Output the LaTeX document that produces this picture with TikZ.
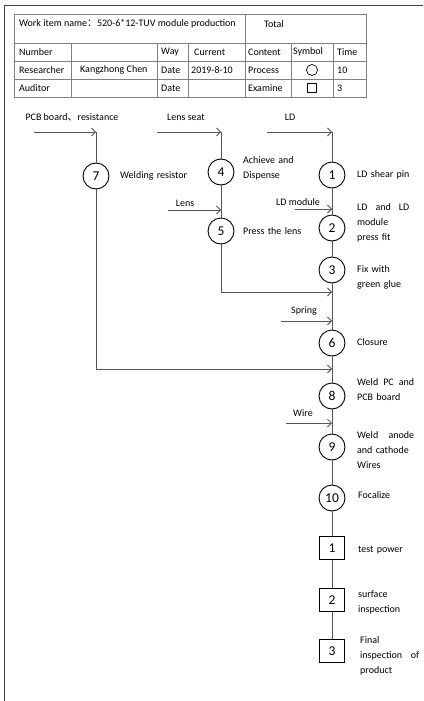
\documentclass[tikz,border=0pt]{standalone}
\usepackage{fontspec}
\setmainfont{Carlito}
\newfontfamily\cjk{Noto Sans CJK SC}
\usepackage{tikz}
\usetikzlibrary{arrows.meta, positioning}
\definecolor{linegray}{HTML}{555555}
\definecolor{tablegray}{HTML}{808080}
\definecolor{framegray}{HTML}{444444}

\tikzset{
    opnode/.style={circle, draw=black, line width=0.9pt, fill=white,
        minimum size=26pt, inner sep=0pt, font=\fontsize{13.5}{13.5}\selectfont},
    checknode/.style={rectangle, draw=black, line width=1.3pt, fill=white,
        minimum width=25pt, minimum height=23pt, inner sep=0pt,
        font=\fontsize{13.5}{13.5}\selectfont},
    flow/.style={draw=linegray, line width=0.8pt},
    feed/.style={flow, -{Straight Barb[length=4pt, width=8pt]}},
    steptext/.style={anchor=west, align=left, text width=58pt, inner sep=0pt,
        font=\fontsize{10}{15}\selectfont},
    feedtext/.style={inner sep=0pt, font=\fontsize{10}{12}\selectfont},
    celltext/.style={anchor=west, inner sep=0pt, font=\fontsize{10}{12}\selectfont}
}

\begin{document}
\begin{tikzpicture}[x=1pt, y=-1pt]
    \useasboundingbox (0,0) rectangle (423,701);
    % Frame
    \draw[framegray, line width=0.8pt] (4,701) -- (4,5) -- (423,5);

    % Header table
    \draw[tablegray, line width=0.6pt] (14,14) rectangle (366,97);
    \draw[tablegray, line width=0.6pt] (14,43.5) -- (366,43.5)
        (14,61) -- (366,61) (14,79) -- (366,79)
        (245,14) -- (245,97)
        (71,43.5) -- (71,97) (157,43.5) -- (157,97) (188,43.5) -- (188,97)
        (291,43.5) -- (291,97) (333,43.5) -- (333,97);
    \node[celltext] (tname) at (19,24) {Work item name{\cjk ：}520-6*12-TUV module production};
    \node[celltext] (ttotal) at (264,24) {Total};
    \node[celltext] (tnum) at (19,52) {Number};
    \node[celltext] (tway) at (161,52) {Way};
    \node[celltext] (tcur) at (194,52) {Current};
    \node[celltext] (tcont) at (248,52) {Content};
    \node[celltext] (tsym) at (293,52) {Symbol};
    \node[celltext] (ttime) at (337,52) {Time};
    \node[celltext] (tres) at (19,70) {Researcher};
    \node[celltext] (tname2) at (80,70) {Kangzhong Chen};
    \node[celltext] (tdate) at (161,70) {Date};
    \node[celltext] (tday) at (191,70) {2019-8-10};
    \node[celltext] (tproc) at (248,70) {Process};
    \node[circle, draw=black, line width=0.7pt, minimum size=11pt, inner sep=0pt] (tcirc) at (312,70) {};
    \node[celltext] (tten) at (337,70) {10};
    \node[celltext] (taud) at (19,88) {Auditor};
    \node[celltext] (tdate2) at (161,88) {Date};
    \node[celltext] (texam) at (248,88) {Examine};
    \node[rectangle, draw=black, line width=1pt, minimum size=9pt, inner sep=0pt] (tsq) at (312,88) {};
    \node[celltext] (tthree) at (337,88) {3};

    % Inputs at the top
    \coordinate (pcbIn) at (34,132);
    \coordinate (pcbTop) at (96,132);
    \coordinate (seatIn) at (157,132);
    \coordinate (seatTop) at (221,132);
    \coordinate (ldIn) at (267,132);
    \coordinate (ldTop) at (332,132);
    \node[feedtext] (pcbLabel) at (72,117) {PCB board{\cjk 、}resistance};
    \node[feedtext] (seatLabel) at (186,117) {Lens seat};
    \node[feedtext] (ldLabel) at (290,117) {LD};

    % Operations
    \node[opnode] (op7) at (96,176) {7};
    \node[opnode] (op4) at (221,172) {4};
    \node[opnode] (op5) at (221,231) {5};
    \node[opnode] (op1) at (332,175) {1};
    \node[opnode] (op2) at (332,228) {2};
    \node[opnode] (op3) at (332,270) {3};
    \node[opnode] (op6) at (332,343) {6};
    \node[opnode] (op8) at (332,396) {8};
    \node[opnode] (op9) at (332,447) {9};
    \node[opnode] (op10) at (332,498) {10};
    % Inspections
    \node[checknode] (ck1) at (332,548) {1};
    \node[checknode] (ck2) at (332,600) {2};
    \node[checknode] (ck3) at (332,651) {3};

    % Step texts
    \node[steptext, text width=80pt] (t7) at (120,176) {Welding resistor};
    \node[steptext] (t4) at (243,168) {Achieve and\\Dispense};
    \node[steptext] (t5) at (243,231) {Press the lens};
    \node[steptext] (t1) at (357,175) {LD shear pin};
    \node[steptext, text width=52pt] (t2) at (357,223) {LD\hfill and\hfill LD\\module\\press fit};
    \node[steptext] (t3) at (357,277) {Fix with\\green glue};
    \node[steptext] (t6) at (357,342) {Closure};
    \node[steptext, text width=57pt] (t8) at (357,390) {Weld\hfill PC\hfill and\\PCB board};
    \node[steptext, text width=57pt] (t9) at (357,450) {Weld\hfill anode\\and cathode\\Wires};
    \node[steptext] (t10) at (358,495) {Focalize};
    \node[steptext] (tc1) at (358,550) {test power};
    \node[steptext] (tc2) at (358,602) {surface\\inspection};
    \node[steptext, text width=59pt] (tc3) at (360,656) {Final\\inspection\hfill of\\product};

    % Side feeds
    \coordinate (lensIn) at (168,210);
    \coordinate (lensAt) at (221,210);
    \node[feedtext] (lensLabel) at (185,203) {Lens};
    \coordinate (modIn) at (295,209);
    \coordinate (modAt) at (332,209);
    \node[feedtext] (modLabel) at (298,202) {LD module};
    \coordinate (springIn) at (281,321);
    \coordinate (springAt) at (332,321);
    \node[feedtext] (springLabel) at (304,311) {Spring};
    \coordinate (wireIn) at (286,423);
    \coordinate (wireAt) at (332,423);
    \node[feedtext] (wireLabel) at (303,413) {Wire};
    \coordinate (bend5) at (221,292);
    \coordinate (join5) at (332,292);
    \coordinate (bend7) at (96,369);
    \coordinate (join7) at (332,369);

    % Flow lines
    \draw[flow] (pcbTop) -- (op7) -- (bend7);
    \draw[flow] (seatTop) -- (op4) -- (op5) -- (bend5);
    \draw[flow] (ldTop) -- (op1) -- (op2) -- (op3) -- (op6) -- (op8) -- (op9)
        -- (op10) -- (ck1) -- (ck2) -- (ck3);
    \draw[feed] (pcbIn) -- (pcbTop);
    \draw[feed] (seatIn) -- (seatTop);
    \draw[feed] (ldIn) -- (ldTop);
    \draw[feed] (lensIn) -- (lensAt);
    \draw[feed] (modIn) -- (modAt);
    \draw[feed] (springIn) -- (springAt);
    \draw[feed] (wireIn) -- (wireAt);
    \draw[feed] (bend5) -- (join5);
    \draw[feed] (bend7) -- (join7);
\end{tikzpicture}
\end{document}
